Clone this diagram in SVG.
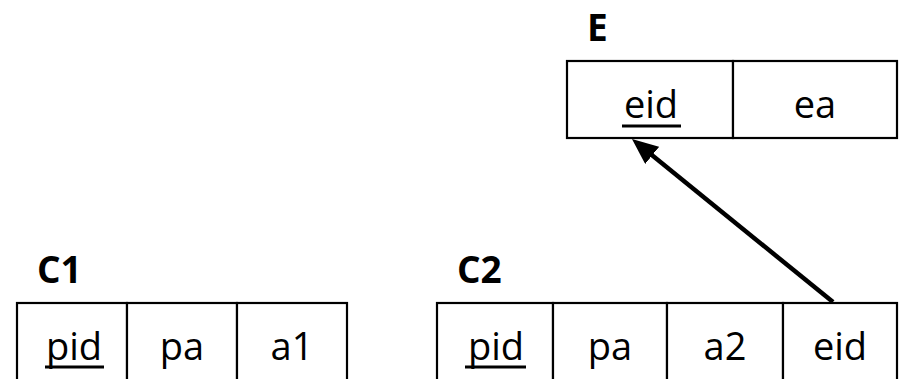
<svg xmlns="http://www.w3.org/2000/svg" width="899" height="379" viewBox="0 0 899 379">
<style>
.cell{fill:#fff;stroke:#000;stroke-width:2.2}
.t{font-family:"Open Sans","Noto Sans","DejaVu Sans",sans-serif;font-size:38px;fill:#000;text-anchor:middle}
.lbl{font-family:"Open Sans","Noto Sans","DejaVu Sans",sans-serif;font-size:37px;font-weight:bold;fill:#000}
.ul{stroke:#000;stroke-width:3}
</style>
<defs>
<marker id="ah" viewBox="0 0 10 10" refX="2.3" refY="5" markerWidth="26" markerHeight="22" markerUnits="userSpaceOnUse" orient="auto" preserveAspectRatio="none">
<path d="M0,0 L10,5 L0,10 z" fill="#000"/>
</marker>
</defs>
<g id="E">
<text class="lbl" x="587" y="41">E</text>
<rect class="cell" x="567" y="61" width="166" height="77"/>
<rect class="cell" x="733" y="61" width="164" height="77"/>
<text class="t" x="651" y="118">eid</text>
<line class="ul" x1="622" y1="126" x2="681" y2="126"/>
<text class="t" x="815" y="118">ea</text>
</g>
<g id="C1">
<text class="lbl" x="37" y="283">C1</text>
<rect class="cell" x="17" y="303" width="110" height="90"/>
<rect class="cell" x="127" y="303" width="110" height="90"/>
<rect class="cell" x="237" y="303" width="110" height="90"/>
<text class="t" x="74" y="360">pid</text>
<line class="ul" x1="45" y1="367" x2="104" y2="367"/>
<text class="t" x="182" y="360">pa</text>
<text class="t" x="292" y="360">a1</text>
</g>
<g id="C2">
<text class="lbl" x="457" y="283">C2</text>
<rect class="cell" x="437" y="303" width="116" height="90"/>
<rect class="cell" x="553" y="303" width="114" height="90"/>
<rect class="cell" x="667" y="303" width="116" height="90"/>
<rect class="cell" x="783" y="303" width="114" height="90"/>
<text class="t" x="496" y="360">pid</text>
<line class="ul" x1="465" y1="367" x2="526" y2="367"/>
<text class="t" x="610" y="360">pa</text>
<text class="t" x="725" y="360">a2</text>
<text class="t" x="840" y="360">eid</text>
</g>
<g id="connectors">
<line x1="833" y1="302" x2="647.5" y2="151.6" stroke="#000" stroke-width="4.5" marker-end="url(#ah)"/>
</g>
</svg>
